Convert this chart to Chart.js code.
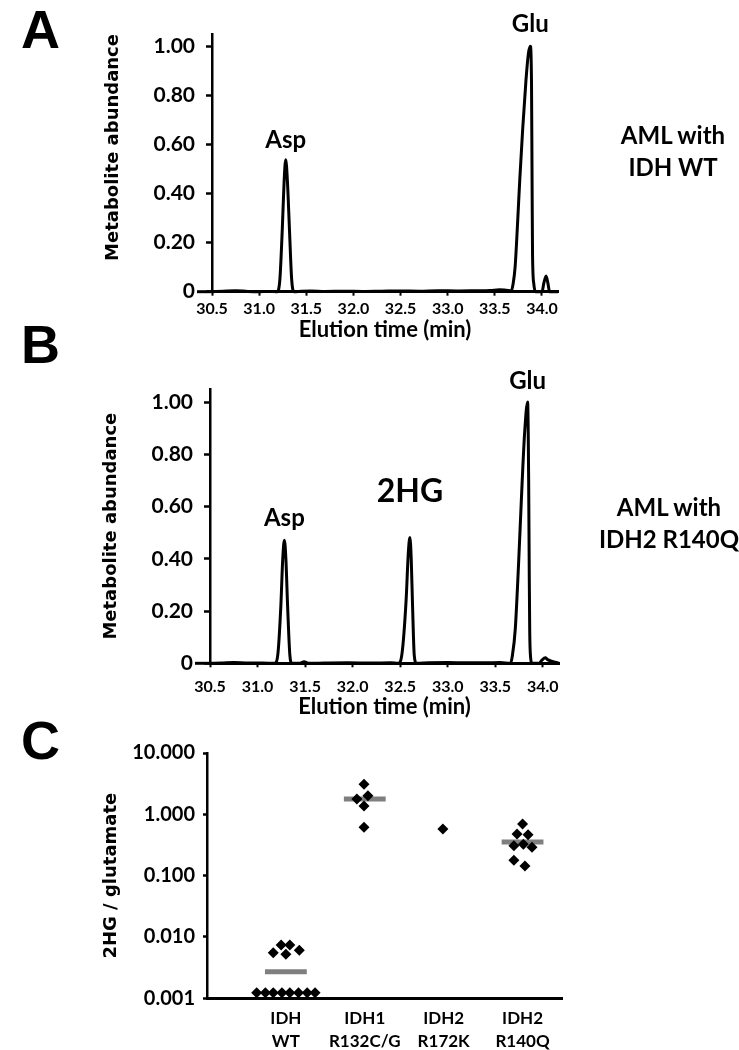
<!DOCTYPE html>
<html>
<head>
<meta charset="utf-8">
<script src="https://cdn.jsdelivr.net/npm/chart.js@4.4.1/dist/chart.umd.min.js"></script>
<style>
  body { margin: 0; background: #fff; }
  #page { position: relative; width: 739px; height: 1050px; overflow: hidden; color: #000; }
  .panel { position: absolute; left: 0; width: 739px; }
  .letter { position: absolute; left: 21px; font: bold 54px "Liberation Sans", Arial, sans-serif; line-height: 54px; }
  .side { position: absolute; width: 160px; text-align: center; white-space: nowrap;
          font: bold 24px Lato, sans-serif; line-height: 31.7px; }
</style>
</head>
<body>
<div id="page">
  <div class="panel" style="top:0;height:345px"><canvas id="chartA"></canvas></div>
  <div class="panel" style="top:350px;height:375px"><canvas id="chartB"></canvas></div>
  <div class="panel" style="top:730px;height:320px"><canvas id="chartC"></canvas></div>
  <div class="letter" style="top:2px">A</div>
  <div class="letter" style="top:317px">B</div>
  <div class="letter" style="top:713px">C</div>
  <div class="side" style="top:119px;left:593px">AML with<br>IDH WT</div>
  <div class="side" style="top:491px;left:589px">AML with<br>IDH2 R140Q</div>
</div>
<script>
// Panel A - AML with IDH WT (elution time in min, relative abundance)
const timeA = [30.50, 30.62, 30.75, 30.88, 31.00, 31.10, 31.19, 31.22, 31.245, 31.265, 31.282,
  31.30, 31.322, 31.345, 31.37, 31.45, 31.55, 31.70, 31.90, 32.10, 32.30, 32.50, 32.70, 32.90,
  33.10, 33.30, 33.45, 33.55, 33.62, 33.676, 33.693, 33.715, 33.74, 33.765, 33.795, 33.83,
  33.856, 33.876, 33.889, 33.895, 33.90, 33.914, 33.93, 33.97, 34.00, 34.02, 34.044, 34.065,
  34.08, 34.12, 34.17];
const abundA = [0.000, 0.002, 0.004, 0.001, 0.000, 0.001, 0.000, 0.05, 0.25, 0.45, 0.538,
  0.45, 0.25, 0.05, 0.000, 0.002, 0.003, 0.001, 0.002, 0.001, 0.002, 0.003, 0.002, 0.004,
  0.003, 0.004, 0.005, 0.008, 0.006, 0.004, 0.03, 0.10, 0.27, 0.46, 0.66, 0.86,
  0.97, 1.00, 0.85, 0.45, 0.15, 0.03, 0.000, 0.000, 0.000, 0.035, 0.064, 0.03,
  0.000, 0.000, 0.000];
const peakNamesA = ["Asp", "Glu"];
const peakTimesA = [31.282, 33.876];

// Panel B - AML with IDH2 R140Q
const timeB = [30.50, 30.62, 30.75, 30.90, 31.05, 31.18, 31.215, 31.245, 31.265, 31.282,
  31.298, 31.316, 31.34, 31.36, 31.44, 31.49, 31.54, 31.70, 31.95, 32.20, 32.40, 32.48,
  32.52, 32.562, 32.585, 32.602, 32.616, 32.63, 32.648, 32.67, 32.80, 33.00, 33.20, 33.40,
  33.55, 33.66, 33.68, 33.71, 33.745, 33.774, 33.808, 33.84, 33.851, 33.857, 33.862,
  33.872, 33.885, 33.96, 33.99, 34.026, 34.05, 34.09, 34.13, 34.17];
const abundB = [0.000, 0.001, 0.003, 0.001, 0.001, 0.000, 0.04, 0.22, 0.40, 0.471,
  0.40, 0.22, 0.03, 0.000, 0.000, 0.006, 0.000, 0.001, 0.002, 0.001, 0.002, 0.000,
  0.04, 0.24, 0.42, 0.482, 0.40, 0.22, 0.03, 0.000, 0.002, 0.003, 0.002, 0.002,
  0.003, 0.000, 0.03, 0.13, 0.382, 0.624, 0.879, 1.00, 0.70, 0.35, 0.127,
  0.02, 0.000, 0.000, 0.012, 0.021, 0.014, 0.008, 0.004, 0.000];
const peakNamesB = ["Asp", "2HG", "Glu"];
const peakTimesB = [31.282, 32.602, 33.84];

const abundTicks = [0, 0.2, 0.4, 0.6, 0.8, 1.0];

// Panel C - 2HG / glutamate per genotype (log scale)
const groupLabels = [["IDH", "WT"], ["IDH1", "R132C/G"], ["IDH2", "R172K"], ["IDH2", "R140Q"]];
const wtX = [0.63, 0.74, 0.84, 0.95, 1.05, 1.16, 1.27, 1.37, 0.84, 0.94, 1.05, 1.00, 1.17];
const wtY = [0.00123, 0.00123, 0.00123, 0.00123, 0.00123, 0.00123, 0.00123, 0.00123,
  0.00554, 0.00741, 0.00741, 0.00522, 0.00607];
const r132X = [1.99, 2.04, 1.90, 1.99, 1.99];
const r132Y = [3.09, 2.01, 1.78, 1.37, 0.613];
const r172X = [2.99];
const r172Y = [0.575];
const r140X = [4.00, 3.93, 4.07, 3.89, 4.01, 4.12, 3.89, 4.03];
const r140Y = [0.695, 0.477, 0.466, 0.308, 0.324, 0.290, 0.178, 0.143];
const groupMeans = [0.00272, 1.78, null, 0.354];
const ratioTicks = [0.001, 0.01, 0.1, 1, 10];

Chart.defaults.font.family = "Lato, sans-serif";
Chart.defaults.font.weight = "bold";
Chart.defaults.color = "#000";
Chart.defaults.animation = false;
Chart.defaults.plugins.legend.display = false;
Chart.defaults.plugins.tooltip.enabled = false;

const toPoints = (xs, ys) => xs.map((x, i) => ({ x, y: ys[i] }));

// peak names written above the apex of each peak
const peakLabels = {
  id: "peakLabels",
  afterDatasetsDraw(chart, args, opts) {
    if (!opts.names) return;
    const { ctx, scales: { x, y } } = chart;
    const data = chart.data.datasets[0].data;
    ctx.save();
    ctx.fillStyle = "#000";
    ctx.textAlign = "center";
    ctx.textBaseline = "middle";
    opts.names.forEach((name, i) => {
      const t = opts.times[i];
      const apex = Math.max(...data.filter((p) => Math.abs(p.x - t) < 0.03).map((p) => p.y));
      ctx.font = `bold ${opts.sizes[i]}px Lato`;
      ctx.fillText(name, x.getPixelForValue(t), y.getPixelForValue(apex) - opts.lifts[i]);
    });
    ctx.restore();
  },
};

// x axis line sticks out a little to the left of the y axis
const axisStub = {
  id: "axisStub",
  afterDraw(chart, args, opts) {
    if (!opts.length) return;
    const { ctx, chartArea, scales: { y } } = chart;
    const yPos = y.getPixelForValue(0);
    ctx.save();
    ctx.strokeStyle = "#000";
    ctx.lineWidth = 3;
    ctx.beginPath();
    ctx.moveTo(chartArea.left - opts.length, yPos);
    ctx.lineTo(chartArea.left, yPos);
    ctx.stroke();
    ctx.restore();
  },
};
Chart.register(peakLabels, axisStub);

function chromChart(id, times, abund, cfg) {
  return new Chart(document.getElementById(id), {
    type: "line",
    data: {
      datasets: [
        {
          data: toPoints(times, abund),
          borderColor: "#000",
          borderWidth: 3,
          pointRadius: 0,
          cubicInterpolationMode: "monotone",
          clip: false,
        },
      ],
    },
    options: {
      responsive: true,
      maintainAspectRatio: false,
      layout: { padding: cfg.padding },
      scales: {
        x: {
          type: "linear",
          min: 30.5,
          max: 34.17,
          afterFit: (s) => { s.height = cfg.xHeight; },
          border: { color: "#000", width: 3 },
          grid: { drawOnChartArea: false, tickLength: 4, tickColor: "#000", tickWidth: 2 },
          ticks: {
            stepSize: 0.5,
            includeBounds: false,
            autoSkip: false,
            maxRotation: 0,
            padding: cfg.xTickPad,
            font: { size: 16 },
            callback: (v) => v.toFixed(1),
          },
          title: {
            display: true,
            text: "Elution time (min)",
            font: { size: 22 },
            padding: { top: 0, bottom: cfg.xTitlePad },
          },
        },
        y: {
          min: 0,
          max: 1.05,
          afterFit: (s) => { s.width = 112; },
          afterBuildTicks: (s) => { s.ticks = abundTicks.map((v) => ({ value: v })); },
          border: { color: "#000", width: 2.5 },
          grid: { drawOnChartArea: false, tickLength: 6, tickColor: "#000", tickWidth: 2.5 },
          ticks: {
            padding: 11,
            font: { size: 21 },
            callback: (v) => (v === 0 ? "0" : v.toFixed(2)),
          },
          title: {
            display: true,
            text: "Metabolite abundance",
            align: cfg.yTitleAlign,
            font: { family: "DejaVu Sans", size: 18, weight: "bold" },
            padding: { top: 3, bottom: 0 },
          },
        },
      },
      plugins: {
        peakLabels: cfg.labels,
        axisStub: { length: 15 },
      },
    },
  });
}

chromChart("chartA", timeA, abundA, {
  padding: { left: 100, right: 181, top: 34, bottom: 0 },
  xHeight: 53.3,
  xTickPad: 4,
  xTitlePad: 2,
  yTitleAlign: "end",
  labels: { names: peakNamesA, times: peakTimesA, lifts: [19, 22], sizes: [24, 24] },
});

chromChart("chartB", timeB, abundB, {
  padding: { left: 98, right: 180, top: 39, bottom: 0 },
  xHeight: 61.7,
  xTickPad: 10,
  xTitlePad: 5,
  yTitleAlign: "center",
  labels: { names: peakNamesB, times: peakTimesB, lifts: [22, 46, 21], sizes: [24, 32, 24] },
});

// Panel C
const ratioPoints = [
  ...toPoints(wtX, wtY),
  ...toPoints(r132X, r132Y),
  ...toPoints(r172X, r172Y),
  ...toPoints(r140X, r140Y),
];
const meanBars = groupMeans
  .map((m, i) => (m === null ? null : {
    data: [{ x: i + 1 - 0.265, y: m }, { x: i + 1 + 0.265, y: m }],
    showLine: true,
    borderColor: "#7f7f7f",
    borderWidth: 5,
    pointRadius: 0,
  }))
  .filter(Boolean);

new Chart(document.getElementById("chartC"), {
  type: "scatter",
  data: {
    datasets: [
      {
        data: ratioPoints,
        pointStyle: "rectRot",
        pointRadius: 5.5,
        backgroundColor: "#000",
        borderWidth: 0,
        clip: false,
      },
      ...meanBars,
    ],
  },
  options: {
    responsive: true,
    maintainAspectRatio: false,
    layout: { padding: { left: 95, right: 177, top: 23, bottom: 0 } },
    scales: {
      x: {
        type: "linear",
        min: 0,
        max: 4.5,
        afterFit: (s) => { s.height = 51.7; },
        afterBuildTicks: (s) => { s.ticks = groupLabels.map((_, i) => ({ value: i + 1 })); },
        border: { color: "#000", width: 3 },
        grid: { display: true, drawOnChartArea: false, drawTicks: false },
        ticks: {
          padding: 8,
          autoSkip: false,
          maxRotation: 0,
          font: { size: 17, lineHeight: 1.38 },
          callback: (v) => groupLabels[v - 1],
        },
      },
      y: {
        type: "logarithmic",
        min: 0.001,
        max: 10,
        afterFit: (s) => { s.width = 112; },
        afterBuildTicks: (s) => { s.ticks = ratioTicks.map((v) => ({ value: v })); },
        border: { color: "#000", width: 2.5 },
        grid: { drawOnChartArea: false, tickLength: 4, tickColor: "#000", tickWidth: 2.5 },
        ticks: {
          padding: 8,
          font: { size: 20 },
          callback: (v) => v.toFixed(3),
        },
        title: {
          display: true,
          text: "2HG / glutamate",
          font: { family: "DejaVu Sans", size: 18, weight: "bold" },
          padding: { top: 6, bottom: 0 },
        },
      },
    },
  },
});
</script>
</body>
</html>
